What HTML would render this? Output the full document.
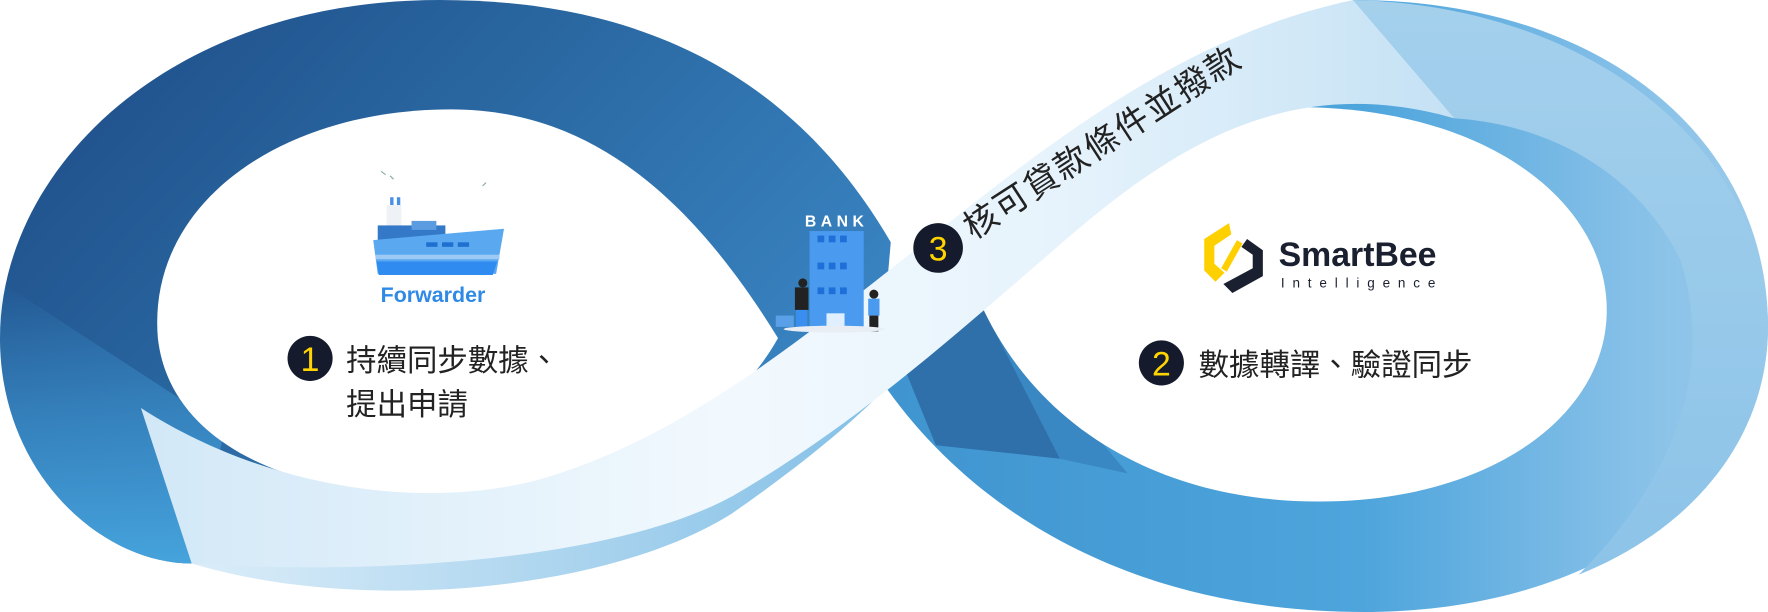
<!DOCTYPE html>
<html><head><meta charset="utf-8"><style>
html,body{margin:0;padding:0;background:#fff;overflow:hidden}
svg{display:block}
text{font-family:"Liberation Sans","Noto Sans CJK TC",sans-serif}
</style></head><body>
<svg width="1768" height="612" viewBox="0 0 1568 543" preserveAspectRatio="none" xmlns="http://www.w3.org/2000/svg">
<defs>
<linearGradient id="gl" x1="0" y1="0" x2="1" y2="0.6">
<stop offset="0" stop-color="#1d4a85"/><stop offset="0.5" stop-color="#2a68a2"/><stop offset="1" stop-color="#3a86c4"/></linearGradient>
<linearGradient id="gll" x1="0" y1="0" x2="0" y2="1">
<stop offset="0" stop-color="#3f98d4" stop-opacity="0"/><stop offset="0.5" stop-color="#3f98d4" stop-opacity="0.6"/><stop offset="1" stop-color="#46a3dc"/></linearGradient>
<linearGradient id="gr" x1="0" y1="0" x2="1" y2="0">
<stop offset="0" stop-color="#3f94cf"/><stop offset="0.55" stop-color="#4ea5dc"/><stop offset="0.85" stop-color="#86c0e8"/><stop offset="1" stop-color="#9ccbea"/></linearGradient>
<linearGradient id="gp" x1="0" y1="0" x2="0" y2="1">
<stop offset="0" stop-color="#a4d0ec"/><stop offset="1" stop-color="#8cc3e8"/></linearGradient>
<linearGradient id="gb" x1="0" y1="0" x2="1" y2="0">
<stop offset="0" stop-color="#d2e8f7"/><stop offset="0.45" stop-color="#f2f9fe"/><stop offset="0.7" stop-color="#e6f3fc"/><stop offset="1" stop-color="#c4e1f4"/></linearGradient>
<linearGradient id="gbl" x1="0" y1="0" x2="1" y2="0">
<stop offset="0" stop-color="#dbedf9"/><stop offset="1" stop-color="#84c0e6"/></linearGradient>
</defs>
<path d="M790,215 C700,60 560,0 390,0 C150,0 0,150 0,300 C0,420 90,500 170,500 L780,330 Z" fill="url(#gl)"/>
<path d="M0,300 C0,420 90,500 170,500 L200,380 L0,250 Z" fill="url(#gll)"/>
<path d="M770,320 C850,450 1000,543 1210,543 C1430,543 1568,420 1568,290 C1568,130 1430,0 1200,0 L900,170 Z" fill="url(#gr)"/>
<path d="M1200,0 C1420,5 1568,140 1568,290 C1568,390 1500,470 1400,510 C1490,420 1520,320 1490,230 C1450,150 1370,110 1290,105 Z" fill="url(#gp)"/>
<path d="M785,285 L880,270 L940,407 L830,395 Z" fill="#2f70aa"/>
<path d="M870,270 L940,407 L1000,420 L900,300 Z" fill="#3a88c3"/>
<path d="M140,300 C130,180 250,97 400,97 C520,97 610,170 690,300 C640,390 520,440 390,440 C250,440 150,390 140,300 Z" fill="#fff"/>
<path d="M870,270 C870,160 980,95 1150,95 C1320,95 1425,180 1425,275 C1425,370 1320,445 1170,445 C1030,445 920,380 870,270 Z" fill="#fff"/>
<path d="M170,500 C320,545 540,525 650,455 C700,420 745,385 780,350 L760,325 C690,390 600,440 500,470 C380,500 260,500 170,500Z" fill="url(#gbl)"/>
<path d="M125,362 C230,430 370,455 480,425 C600,390 700,310 820,215 C950,110 1060,30 1200,0 L1290,105 C1150,65 1050,125 960,200 C860,285 770,370 650,440 C540,500 320,510 170,500 Z" fill="url(#gb)"/>
<g>
<path d="M338,152 l4,3 M346,156 l3,3 M428,165 l3,-3" stroke="#8aa" stroke-width="1"/>
<rect x="346" y="175" width="3" height="7" fill="#4a90e2"/><rect x="352" y="175" width="3" height="7" fill="#4a90e2"/>
<rect x="343" y="182" width="13" height="30" fill="#eef2f6"/>
<rect x="335" y="200" width="60" height="14" fill="#3478c8"/>
<rect x="365" y="196" width="22" height="8" fill="#5b9be0"/>
<path d="M331,213 L447,203 L440,243 L335,243 Z" fill="#5aa8f0"/>
<rect x="378" y="215" width="10" height="4" fill="#1e6fd0"/><rect x="392" y="215" width="10" height="4" fill="#1e6fd0"/><rect x="406" y="215" width="10" height="4" fill="#1e6fd0"/>
<rect x="333" y="226" width="110" height="4" fill="#9ccaf5"/>
<path d="M334,232 L441,232 L437,244 L336,244 Z" fill="#2f8bf0"/>
<text x="384" y="268" font-size="19" font-weight="bold" fill="#2f8ae6" text-anchor="middle">Forwarder</text>
</g>
<g>
<text x="742" y="201" font-size="14" font-weight="bold" fill="#fff" text-anchor="middle" letter-spacing="4">BANK</text>
<rect x="718" y="205" width="48" height="85" fill="#4a9af0"/>
<g fill="#1f6fd8">
<rect x="725" y="209" width="6" height="6"/><rect x="735" y="209" width="6" height="6"/><rect x="745" y="209" width="6" height="6"/>
<rect x="725" y="233" width="6" height="6"/><rect x="735" y="233" width="6" height="6"/><rect x="745" y="233" width="6" height="6"/>
<rect x="725" y="255" width="6" height="6"/><rect x="735" y="255" width="6" height="6"/><rect x="745" y="255" width="6" height="6"/>
</g>
<rect x="733" y="278" width="16" height="12" fill="#dfefff"/>
<circle cx="712" cy="251" r="4" fill="#222"/><rect x="705" y="255" width="12" height="20" fill="#222"/>
<rect x="706" y="275" width="10" height="18" fill="#3a8ef0"/>
<rect x="688" y="280" width="16" height="10" fill="#5aa0e8"/>
<circle cx="775" cy="261" r="4" fill="#222"/><rect x="770" y="265" width="10" height="15" fill="#4a9af0"/>
<rect x="771" y="280" width="8" height="14" fill="#222"/>
<ellipse cx="740" cy="292" rx="45" ry="3" fill="#e8eef4"/>
</g>
<circle cx="275" cy="318" r="20" fill="#151b2c"/>
<text x="275" y="329" font-size="30" fill="#ffd400" text-anchor="middle">1</text>
<text x="307" y="329" font-size="27" fill="#222">持續同步數據、</text>
<text x="307" y="368" font-size="27" fill="#222">提出申請</text>
<circle cx="1030" cy="322" r="20" fill="#151b2c"/>
<text x="1030" y="333" font-size="30" fill="#ffd400" text-anchor="middle">2</text>
<text x="1063" y="333" font-size="27" fill="#222">數據轉譯、驗證同步</text>
<g transform="translate(832,220) rotate(-33)">
<circle cx="0" cy="0" r="22" fill="#151b2c"/>
<text x="0" y="11" font-size="30" fill="#ffd400" text-anchor="middle" transform="rotate(33)">3</text>
<text x="30" y="11" font-size="30" fill="#222" textLength="285">核可貸款條件並撥款</text>
</g>
<g>
<path d="M1090,198 L1068,212 L1068,240 L1078,250 L1086,242 L1077,234 L1077,218 L1092,208 Z" fill="#ffd000"/>
<path d="M1097,213 L1083,238 L1088,241 L1102,216 Z" fill="#ffd000"/>
<path d="M1106,212 L1120,222 L1120,245 L1093,260 L1085,252 L1111,238 L1111,226 L1101,219 Z" fill="#1b2030"/>
<text x="1134" y="236" font-size="30" font-weight="bold" fill="#1b2030" textLength="140" lengthAdjust="spacingAndGlyphs">SmartBee</text>
<text x="1136" y="255" font-size="12" fill="#1b2030" textLength="140" letter-spacing="3">Intelligence</text>
</g>
</svg>
</body></html>
